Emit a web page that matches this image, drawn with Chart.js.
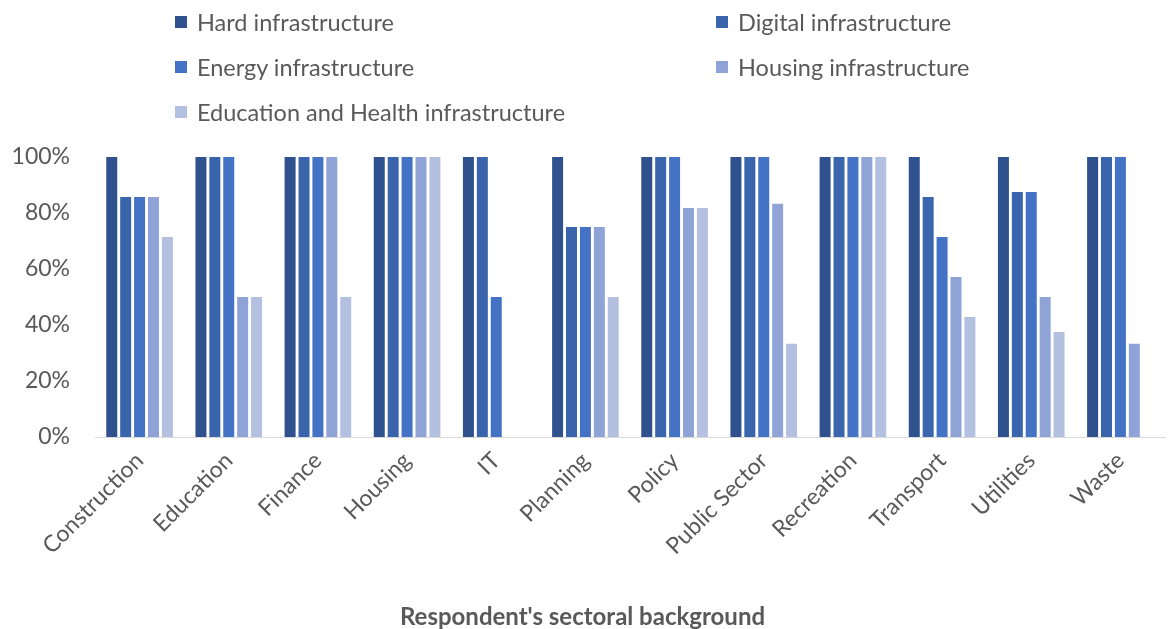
<!DOCTYPE html>
<html lang="en">
<head>
<meta charset="UTF-8">
<title>Infrastructure by sector</title>
<script src="https://cdn.jsdelivr.net/npm/chart.js"></script>
<style>
    body {
        margin: 0;
        background: #fff;
        font-family: Lato, "Open Sans", sans-serif;
    }
    .wrap {
        position: relative;
        width: 1173px;
        height: 629px;
    }
    #chart {
        position: absolute;
        left: 0;
        top: 0;
    }
    .legend {
        position: absolute;
        left: 175px;
        top: 8px;
        width: 960px;
        display: grid;
        grid-template-columns: 541px auto;
        row-gap: 17px;
        color: #595959;
        font-size: 23.5px;
    }
    .legend div {
        display: flex;
        align-items: center;
        height: 28px;
    }
    .legend span.box {
        width: 12px;
        height: 12px;
        margin-right: 10px;
        display: inline-block;
    }
</style>
</head>
<body>
<div class="wrap">
    <canvas id="chart" width="1173" height="629"></canvas>
    <div class="legend" id="legend"></div>
</div>
<script>
    const sectors = ['Construction', 'Education', 'Finance', 'Housing', 'IT', 'Planning',
        'Policy', 'Public Sector', 'Recreation', 'Transport', 'Utilities', 'Waste'];

    const seriesNames = ['Hard infrastructure', 'Digital infrastructure', 'Energy infrastructure',
        'Housing infrastructure', 'Education and Health infrastructure'];
    const seriesColors = ['#2F528F', '#3A64AC', '#4472C4', '#8FA3D6', '#B4C0E0'];

    // share of respondents (%) per sector
    const hard      = [100, 100, 100, 100, 100, 100, 100, 100, 100, 100, 100, 100];
    const digital   = [85.7, 100, 100, 100, 100, 75, 100, 100, 100, 85.7, 87.5, 100];
    const energy    = [85.7, 100, 100, 100, 50, 75, 100, 100, 100, 71.4, 87.5, 100];
    const housing   = [85.7, 50, 100, 100, 0, 75, 81.8, 83.3, 100, 57.1, 50, 33.3];
    const eduHealth = [71.4, 50, 50, 100, 0, 50, 81.8, 33.3, 100, 42.9, 37.5, 0];

    const yTicks = [0, 20, 40, 60, 80, 100];
    const series = [hard, digital, energy, housing, eduHealth];
    const textColor = '#595959';

    const chart = new Chart(document.getElementById('chart'), {
        type: 'bar',
        data: {
            labels: sectors,
            datasets: series.map((vals, i) => ({
                label: seriesNames[i],
                data: vals,
                backgroundColor: seriesColors[i],
                barPercentage: 0.79,
                categoryPercentage: 0.78
            }))
        },
        options: {
            responsive: false,
            animation: false,
            layout: { padding: { top: 157, right: 8, left: 0, bottom: 0 } },
            plugins: {
                legend: { display: false },
                tooltip: { enabled: false },
                title: {
                    display: true,
                    position: 'bottom',
                    text: "Respondent's sectoral background",
                    color: textColor,
                    font: { family: 'Lato', size: 24, weight: 'bold', lineHeight: 1 },
                    padding: { top: 0, bottom: 0 }
                }
            },
            scales: {
                x: {
                    grid: { display: false },
                    border: { color: '#D9D9D9', width: 1 },
                    ticks: {
                        color: textColor,
                        font: { family: 'Lato', size: 23 },
                        minRotation: 45,
                        maxRotation: 45,
                        padding: 2
                    },
                    afterFit: (scale) => { scale.height = 168; }
                },
                y: {
                    min: 0,
                    max: 100,
                    afterBuildTicks: (scale) => { scale.ticks = yTicks.map(v => ({ value: v })); },
                    grid: { display: false, drawTicks: false },
                    border: { display: false },
                    ticks: {
                        color: textColor,
                        font: { family: 'Lato', size: 23 },
                        padding: 25,
                        callback: (v) => v + '%'
                    },
                    afterFit: (scale) => { scale.width = 95; }
                }
            }
        }
    });

    // two-column legend above the plot
    const legendEl = document.getElementById('legend');
    chart.data.datasets.forEach((ds) => {
        const item = document.createElement('div');
        item.innerHTML = '<span class="box" style="background:' + ds.backgroundColor + '"></span>' + ds.label;
        legendEl.appendChild(item);
    });
</script>
</body>
</html>
